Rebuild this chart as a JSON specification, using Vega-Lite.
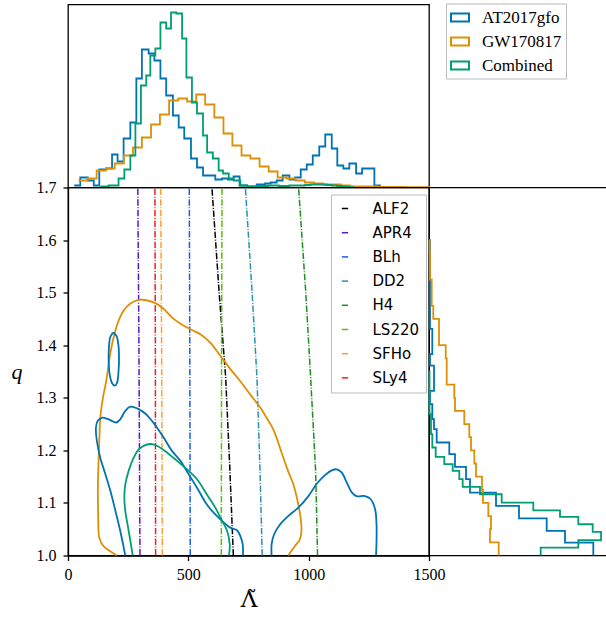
{
  "$schema": "https://vega.github.io/schema/vega-lite/v6.json",
  "padding": {"left": 10, "top": 1.5, "right": 0, "bottom": 0},
  "bounds": "flush",
  "spacing": 0,
  "resolve": {"scale": {"color": "independent"}},
  "config": {
    "view": {"stroke": "black", "strokeWidth": 1.3},
    "axis": {"domainColor": "black", "domainWidth": 1.3, "tickColor": "black", "tickWidth": 1.3, "tickSize": 5, "labelFont": "Liberation Serif", "labelFontSize": 16, "labelColor": "black", "titleColor": "black", "titleFont": "Liberation Serif", "titleFontWeight": "normal", "grid": false, "labelPadding": 6, "labelFlush": false}
  },
  "datasets": {
    "tophist": [
      {"dataset": "AT2017gfo", "lam": 26, "h": 2}, {"dataset": "AT2017gfo", "lam": 51, "h": 10}, {"dataset": "AT2017gfo", "lam": 82, "h": 7}, {"dataset": "AT2017gfo", "lam": 107, "h": 2}, {"dataset": "AT2017gfo", "lam": 130, "h": 18}, {"dataset": "AT2017gfo", "lam": 159, "h": 19}, {"dataset": "AT2017gfo", "lam": 183, "h": 33}, {"dataset": "AT2017gfo", "lam": 206, "h": 26}, {"dataset": "AT2017gfo", "lam": 231, "h": 49}, {"dataset": "AT2017gfo", "lam": 259, "h": 65}, {"dataset": "AT2017gfo", "lam": 284, "h": 109}, {"dataset": "AT2017gfo", "lam": 307, "h": 138}, {"dataset": "AT2017gfo", "lam": 335, "h": 134}, {"dataset": "AT2017gfo", "lam": 359, "h": 127}, {"dataset": "AT2017gfo", "lam": 384, "h": 109}, {"dataset": "AT2017gfo", "lam": 408, "h": 92}, {"dataset": "AT2017gfo", "lam": 436, "h": 72}, {"dataset": "AT2017gfo", "lam": 460, "h": 60}, {"dataset": "AT2017gfo", "lam": 483, "h": 49}, {"dataset": "AT2017gfo", "lam": 511, "h": 29}, {"dataset": "AT2017gfo", "lam": 536, "h": 20}, {"dataset": "AT2017gfo", "lam": 561, "h": 12}, {"dataset": "AT2017gfo", "lam": 589, "h": 12}, {"dataset": "AT2017gfo", "lam": 612, "h": 8}, {"dataset": "AT2017gfo", "lam": 640, "h": 9}, {"dataset": "AT2017gfo", "lam": 665, "h": 8}, {"dataset": "AT2017gfo", "lam": 688, "h": 11}, {"dataset": "AT2017gfo", "lam": 713, "h": 2}, {"dataset": "AT2017gfo", "lam": 744, "h": 1}, {"dataset": "AT2017gfo", "lam": 784, "h": 3}, {"dataset": "AT2017gfo", "lam": 819, "h": 4}, {"dataset": "AT2017gfo", "lam": 842, "h": 5}, {"dataset": "AT2017gfo", "lam": 867, "h": 7}, {"dataset": "AT2017gfo", "lam": 892, "h": 12}, {"dataset": "AT2017gfo", "lam": 920, "h": 8}, {"dataset": "AT2017gfo", "lam": 943, "h": 10}, {"dataset": "AT2017gfo", "lam": 967, "h": 18}, {"dataset": "AT2017gfo", "lam": 992, "h": 23}, {"dataset": "AT2017gfo", "lam": 1017, "h": 32}, {"dataset": "AT2017gfo", "lam": 1044, "h": 41}, {"dataset": "AT2017gfo", "lam": 1069, "h": 53}, {"dataset": "AT2017gfo", "lam": 1096, "h": 39}, {"dataset": "AT2017gfo", "lam": 1119, "h": 22}, {"dataset": "AT2017gfo", "lam": 1144, "h": 19}, {"dataset": "AT2017gfo", "lam": 1169, "h": 24}, {"dataset": "AT2017gfo", "lam": 1197, "h": 14}, {"dataset": "AT2017gfo", "lam": 1222, "h": 19}, {"dataset": "AT2017gfo", "lam": 1248, "h": 19}, {"dataset": "AT2017gfo", "lam": 1273, "h": 2}, {"dataset": "AT2017gfo", "lam": 1296, "h": 0},
      {"dataset": "GW170817", "lam": 44, "h": 7}, {"dataset": "GW170817", "lam": 82, "h": 9}, {"dataset": "GW170817", "lam": 119, "h": 17}, {"dataset": "GW170817", "lam": 157, "h": 19}, {"dataset": "GW170817", "lam": 194, "h": 24}, {"dataset": "GW170817", "lam": 232, "h": 32}, {"dataset": "GW170817", "lam": 270, "h": 40}, {"dataset": "GW170817", "lam": 307, "h": 50}, {"dataset": "GW170817", "lam": 345, "h": 63}, {"dataset": "GW170817", "lam": 382, "h": 73}, {"dataset": "GW170817", "lam": 420, "h": 87}, {"dataset": "GW170817", "lam": 458, "h": 89}, {"dataset": "GW170817", "lam": 495, "h": 86}, {"dataset": "GW170817", "lam": 533, "h": 93}, {"dataset": "GW170817", "lam": 570, "h": 83}, {"dataset": "GW170817", "lam": 608, "h": 70}, {"dataset": "GW170817", "lam": 646, "h": 54}, {"dataset": "GW170817", "lam": 683, "h": 42}, {"dataset": "GW170817", "lam": 721, "h": 32}, {"dataset": "GW170817", "lam": 758, "h": 29}, {"dataset": "GW170817", "lam": 796, "h": 21}, {"dataset": "GW170817", "lam": 834, "h": 16}, {"dataset": "GW170817", "lam": 871, "h": 10}, {"dataset": "GW170817", "lam": 909, "h": 9}, {"dataset": "GW170817", "lam": 946, "h": 7}, {"dataset": "GW170817", "lam": 984, "h": 5}, {"dataset": "GW170817", "lam": 1022, "h": 4}, {"dataset": "GW170817", "lam": 1059, "h": 3}, {"dataset": "GW170817", "lam": 1097, "h": 3}, {"dataset": "GW170817", "lam": 1134, "h": 2}, {"dataset": "GW170817", "lam": 1172, "h": 1}, {"dataset": "GW170817", "lam": 1210, "h": 1}, {"dataset": "GW170817", "lam": 1247, "h": 1}, {"dataset": "GW170817", "lam": 1285, "h": 0.5}, {"dataset": "GW170817", "lam": 1400, "h": 0.3}, {"dataset": "GW170817", "lam": 1500, "h": 0},
      {"dataset": "Combined", "lam": 134, "h": 1}, {"dataset": "Combined", "lam": 169, "h": 2}, {"dataset": "Combined", "lam": 210, "h": 9}, {"dataset": "Combined", "lam": 234, "h": 18}, {"dataset": "Combined", "lam": 259, "h": 32}, {"dataset": "Combined", "lam": 280, "h": 64}, {"dataset": "Combined", "lam": 303, "h": 102}, {"dataset": "Combined", "lam": 325, "h": 112}, {"dataset": "Combined", "lam": 342, "h": 132}, {"dataset": "Combined", "lam": 363, "h": 139}, {"dataset": "Combined", "lam": 384, "h": 165}, {"dataset": "Combined", "lam": 408, "h": 159}, {"dataset": "Combined", "lam": 428, "h": 175}, {"dataset": "Combined", "lam": 450, "h": 174}, {"dataset": "Combined", "lam": 474, "h": 149}, {"dataset": "Combined", "lam": 492, "h": 110}, {"dataset": "Combined", "lam": 515, "h": 85}, {"dataset": "Combined", "lam": 536, "h": 74}, {"dataset": "Combined", "lam": 561, "h": 52}, {"dataset": "Combined", "lam": 578, "h": 35}, {"dataset": "Combined", "lam": 602, "h": 29}, {"dataset": "Combined", "lam": 626, "h": 17}, {"dataset": "Combined", "lam": 644, "h": 14}, {"dataset": "Combined", "lam": 668, "h": 9}, {"dataset": "Combined", "lam": 688, "h": 7}, {"dataset": "Combined", "lam": 716, "h": 2}, {"dataset": "Combined", "lam": 744, "h": 1}, {"dataset": "Combined", "lam": 766, "h": 1}, {"dataset": "Combined", "lam": 788, "h": 1.5}, {"dataset": "Combined", "lam": 810, "h": 1.5}, {"dataset": "Combined", "lam": 832, "h": 2}, {"dataset": "Combined", "lam": 854, "h": 2}, {"dataset": "Combined", "lam": 876, "h": 1.5}, {"dataset": "Combined", "lam": 898, "h": 1.5}, {"dataset": "Combined", "lam": 920, "h": 2}, {"dataset": "Combined", "lam": 942, "h": 2}, {"dataset": "Combined", "lam": 964, "h": 2}, {"dataset": "Combined", "lam": 986, "h": 2.5}, {"dataset": "Combined", "lam": 1008, "h": 3}, {"dataset": "Combined", "lam": 1030, "h": 3}, {"dataset": "Combined", "lam": 1052, "h": 3}, {"dataset": "Combined", "lam": 1074, "h": 2.5}, {"dataset": "Combined", "lam": 1096, "h": 2}, {"dataset": "Combined", "lam": 1118, "h": 1.5}, {"dataset": "Combined", "lam": 1140, "h": 1}, {"dataset": "Combined", "lam": 1162, "h": 0.5}, {"dataset": "Combined", "lam": 1184, "h": 0}
    ],
    "righthist": [
      {"dataset": "AT2017gfo", "q": 1.0, "w": 164.3}, {"dataset": "AT2017gfo", "q": 1.0245, "w": 136}, {"dataset": "AT2017gfo", "q": 1.0467, "w": 117.7}, {"dataset": "AT2017gfo", "q": 1.0708, "w": 90}, {"dataset": "AT2017gfo", "q": 1.0943, "w": 67}, {"dataset": "AT2017gfo", "q": 1.1197, "w": 41}, {"dataset": "AT2017gfo", "q": 1.1451, "w": 37}, {"dataset": "AT2017gfo", "q": 1.1686, "w": 26}, {"dataset": "AT2017gfo", "q": 1.1927, "w": 20.3}, {"dataset": "AT2017gfo", "q": 1.2149, "w": 7.7}, {"dataset": "AT2017gfo", "q": 1.2403, "w": 5}, {"dataset": "AT2017gfo", "q": 1.2594, "w": 3.3}, {"dataset": "AT2017gfo", "q": 1.288, "w": 1}, {"dataset": "AT2017gfo", "q": 1.3133, "w": 5}, {"dataset": "AT2017gfo", "q": 1.361, "w": 1}, {"dataset": "AT2017gfo", "q": 1.383, "w": 3.3}, {"dataset": "AT2017gfo", "q": 1.431, "w": 1}, {"dataset": "AT2017gfo", "q": 1.456, "w": 1}, {"dataset": "AT2017gfo", "q": 1.6, "w": 0},
      {"dataset": "GW170817", "q": 1.0, "w": 69.7}, {"dataset": "GW170817", "q": 1.025, "w": 61}, {"dataset": "GW170817", "q": 1.05, "w": 62}, {"dataset": "GW170817", "q": 1.075, "w": 59.3}, {"dataset": "GW170817", "q": 1.1, "w": 54}, {"dataset": "GW170817", "q": 1.125, "w": 53}, {"dataset": "GW170817", "q": 1.15, "w": 47}, {"dataset": "GW170817", "q": 1.175, "w": 45.3}, {"dataset": "GW170817", "q": 1.2, "w": 42}, {"dataset": "GW170817", "q": 1.225, "w": 40.3}, {"dataset": "GW170817", "q": 1.25, "w": 35.3}, {"dataset": "GW170817", "q": 1.275, "w": 26}, {"dataset": "GW170817", "q": 1.3, "w": 25.3}, {"dataset": "GW170817", "q": 1.325, "w": 17.7}, {"dataset": "GW170817", "q": 1.35, "w": 17.7}, {"dataset": "GW170817", "q": 1.375, "w": 16.7}, {"dataset": "GW170817", "q": 1.4, "w": 10}, {"dataset": "GW170817", "q": 1.425, "w": 10}, {"dataset": "GW170817", "q": 1.45, "w": 4.3}, {"dataset": "GW170817", "q": 1.475, "w": 2.7}, {"dataset": "GW170817", "q": 1.5, "w": 2.7}, {"dataset": "GW170817", "q": 1.525, "w": 1}, {"dataset": "GW170817", "q": 1.55, "w": 1}, {"dataset": "GW170817", "q": 1.575, "w": 0.7}, {"dataset": "GW170817", "q": 1.6, "w": 0},
      {"dataset": "Combined", "q": 1.0, "w": 111.7}, {"dataset": "Combined", "q": 1.015, "w": 149.3}, {"dataset": "Combined", "q": 1.029, "w": 172}, {"dataset": "Combined", "q": 1.0448, "w": 163.7}, {"dataset": "Combined", "q": 1.0594, "w": 149.3}, {"dataset": "Combined", "q": 1.0733, "w": 131}, {"dataset": "Combined", "q": 1.086, "w": 104.3}, {"dataset": "Combined", "q": 1.1006, "w": 72.7}, {"dataset": "Combined", "q": 1.1165, "w": 51}, {"dataset": "Combined", "q": 1.1305, "w": 33.7}, {"dataset": "Combined", "q": 1.1451, "w": 30.3}, {"dataset": "Combined", "q": 1.161, "w": 23.7}, {"dataset": "Combined", "q": 1.1737, "w": 15.3}, {"dataset": "Combined", "q": 1.1876, "w": 6.7}, {"dataset": "Combined", "q": 1.2054, "w": 3.3}, {"dataset": "Combined", "q": 1.2308, "w": 2}, {"dataset": "Combined", "q": 1.269, "w": 0.5}, {"dataset": "Combined", "q": 1.35, "w": 0}
    ],
    "contours": [
      {"dataset": "GW170817", "part": "gw", "i": 0, "lam": 202, "q": 1.0}, {"dataset": "GW170817", "part": "gw", "i": 1, "lam": 175, "q": 1.008}, {"dataset": "GW170817", "part": "gw", "i": 2, "lam": 147, "q": 1.018}, {"dataset": "GW170817", "part": "gw", "i": 3, "lam": 130, "q": 1.034}, {"dataset": "GW170817", "part": "gw", "i": 4, "lam": 126, "q": 1.06}, {"dataset": "GW170817", "part": "gw", "i": 5, "lam": 125, "q": 1.085}, {"dataset": "GW170817", "part": "gw", "i": 6, "lam": 124, "q": 1.123}, {"dataset": "GW170817", "part": "gw", "i": 7, "lam": 127, "q": 1.18}, {"dataset": "GW170817", "part": "gw", "i": 8, "lam": 131, "q": 1.23}, {"dataset": "GW170817", "part": "gw", "i": 9, "lam": 134, "q": 1.262}, {"dataset": "GW170817", "part": "gw", "i": 10, "lam": 145, "q": 1.3}, {"dataset": "GW170817", "part": "gw", "i": 11, "lam": 159, "q": 1.332}, {"dataset": "GW170817", "part": "gw", "i": 12, "lam": 173, "q": 1.377}, {"dataset": "GW170817", "part": "gw", "i": 13, "lam": 186, "q": 1.408}, {"dataset": "GW170817", "part": "gw", "i": 14, "lam": 205, "q": 1.44}, {"dataset": "GW170817", "part": "gw", "i": 15, "lam": 230, "q": 1.465}, {"dataset": "GW170817", "part": "gw", "i": 16, "lam": 258, "q": 1.479}, {"dataset": "GW170817", "part": "gw", "i": 17, "lam": 290, "q": 1.486}, {"dataset": "GW170817", "part": "gw", "i": 18, "lam": 320, "q": 1.486}, {"dataset": "GW170817", "part": "gw", "i": 19, "lam": 363, "q": 1.48}, {"dataset": "GW170817", "part": "gw", "i": 20, "lam": 398, "q": 1.469}, {"dataset": "GW170817", "part": "gw", "i": 21, "lam": 439, "q": 1.45}, {"dataset": "GW170817", "part": "gw", "i": 22, "lam": 481, "q": 1.437}, {"dataset": "GW170817", "part": "gw", "i": 23, "lam": 515, "q": 1.429}, {"dataset": "GW170817", "part": "gw", "i": 24, "lam": 550, "q": 1.421}, {"dataset": "GW170817", "part": "gw", "i": 25, "lam": 591, "q": 1.405}, {"dataset": "GW170817", "part": "gw", "i": 26, "lam": 633, "q": 1.38}, {"dataset": "GW170817", "part": "gw", "i": 27, "lam": 674, "q": 1.355}, {"dataset": "GW170817", "part": "gw", "i": 28, "lam": 715, "q": 1.332}, {"dataset": "GW170817", "part": "gw", "i": 29, "lam": 756, "q": 1.307}, {"dataset": "GW170817", "part": "gw", "i": 30, "lam": 798, "q": 1.282}, {"dataset": "GW170817", "part": "gw", "i": 31, "lam": 825, "q": 1.262}, {"dataset": "GW170817", "part": "gw", "i": 32, "lam": 853, "q": 1.24}, {"dataset": "GW170817", "part": "gw", "i": 33, "lam": 888, "q": 1.195}, {"dataset": "GW170817", "part": "gw", "i": 34, "lam": 915, "q": 1.16}, {"dataset": "GW170817", "part": "gw", "i": 35, "lam": 936, "q": 1.136}, {"dataset": "GW170817", "part": "gw", "i": 36, "lam": 957, "q": 1.097}, {"dataset": "GW170817", "part": "gw", "i": 37, "lam": 968, "q": 1.066}, {"dataset": "GW170817", "part": "gw", "i": 38, "lam": 970, "q": 1.047}, {"dataset": "GW170817", "part": "gw", "i": 39, "lam": 963, "q": 1.03}, {"dataset": "GW170817", "part": "gw", "i": 40, "lam": 943, "q": 1.018}, {"dataset": "GW170817", "part": "gw", "i": 41, "lam": 915, "q": 1.0},
      {"dataset": "AT2017gfo", "part": "ell", "i": 0, "lam": 187, "q": 1.424}, {"dataset": "AT2017gfo", "part": "ell", "i": 1, "lam": 201, "q": 1.418}, {"dataset": "AT2017gfo", "part": "ell", "i": 2, "lam": 209, "q": 1.402}, {"dataset": "AT2017gfo", "part": "ell", "i": 3, "lam": 212, "q": 1.377}, {"dataset": "AT2017gfo", "part": "ell", "i": 4, "lam": 210, "q": 1.351}, {"dataset": "AT2017gfo", "part": "ell", "i": 5, "lam": 204, "q": 1.329}, {"dataset": "AT2017gfo", "part": "ell", "i": 6, "lam": 194, "q": 1.323}, {"dataset": "AT2017gfo", "part": "ell", "i": 7, "lam": 184, "q": 1.327}, {"dataset": "AT2017gfo", "part": "ell", "i": 8, "lam": 173, "q": 1.345}, {"dataset": "AT2017gfo", "part": "ell", "i": 9, "lam": 169, "q": 1.37}, {"dataset": "AT2017gfo", "part": "ell", "i": 10, "lam": 170, "q": 1.396}, {"dataset": "AT2017gfo", "part": "ell", "i": 11, "lam": 176, "q": 1.416}, {"dataset": "AT2017gfo", "part": "ell", "i": 12, "lam": 187, "q": 1.424},
      {"dataset": "AT2017gfo", "part": "left", "i": 0, "lam": 238, "q": 1.0}, {"dataset": "AT2017gfo", "part": "left", "i": 1, "lam": 217, "q": 1.047}, {"dataset": "AT2017gfo", "part": "left", "i": 2, "lam": 197, "q": 1.085}, {"dataset": "AT2017gfo", "part": "left", "i": 3, "lam": 176, "q": 1.123}, {"dataset": "AT2017gfo", "part": "left", "i": 4, "lam": 155, "q": 1.155}, {"dataset": "AT2017gfo", "part": "left", "i": 5, "lam": 134, "q": 1.186}, {"dataset": "AT2017gfo", "part": "left", "i": 6, "lam": 120, "q": 1.218}, {"dataset": "AT2017gfo", "part": "left", "i": 7, "lam": 116, "q": 1.243}, {"dataset": "AT2017gfo", "part": "left", "i": 8, "lam": 123, "q": 1.256}, {"dataset": "AT2017gfo", "part": "left", "i": 9, "lam": 141, "q": 1.262}, {"dataset": "AT2017gfo", "part": "left", "i": 10, "lam": 169, "q": 1.259}, {"dataset": "AT2017gfo", "part": "left", "i": 11, "lam": 201, "q": 1.253}, {"dataset": "AT2017gfo", "part": "left", "i": 12, "lam": 217, "q": 1.259}, {"dataset": "AT2017gfo", "part": "left", "i": 13, "lam": 238, "q": 1.275}, {"dataset": "AT2017gfo", "part": "left", "i": 14, "lam": 259, "q": 1.283}, {"dataset": "AT2017gfo", "part": "left", "i": 15, "lam": 287, "q": 1.28}, {"dataset": "AT2017gfo", "part": "left", "i": 16, "lam": 321, "q": 1.27}, {"dataset": "AT2017gfo", "part": "left", "i": 17, "lam": 349, "q": 1.256}, {"dataset": "AT2017gfo", "part": "left", "i": 18, "lam": 370, "q": 1.243}, {"dataset": "AT2017gfo", "part": "left", "i": 19, "lam": 398, "q": 1.224}, {"dataset": "AT2017gfo", "part": "left", "i": 20, "lam": 432, "q": 1.199}, {"dataset": "AT2017gfo", "part": "left", "i": 21, "lam": 467, "q": 1.18}, {"dataset": "AT2017gfo", "part": "left", "i": 22, "lam": 501, "q": 1.155}, {"dataset": "AT2017gfo", "part": "left", "i": 23, "lam": 536, "q": 1.129}, {"dataset": "AT2017gfo", "part": "left", "i": 24, "lam": 577, "q": 1.097}, {"dataset": "AT2017gfo", "part": "left", "i": 25, "lam": 612, "q": 1.078}, {"dataset": "AT2017gfo", "part": "left", "i": 26, "lam": 640, "q": 1.066}, {"dataset": "AT2017gfo", "part": "left", "i": 27, "lam": 674, "q": 1.053}, {"dataset": "AT2017gfo", "part": "left", "i": 28, "lam": 702, "q": 1.048}, {"dataset": "AT2017gfo", "part": "left", "i": 29, "lam": 716, "q": 1.037}, {"dataset": "AT2017gfo", "part": "left", "i": 30, "lam": 726, "q": 1.021}, {"dataset": "AT2017gfo", "part": "left", "i": 31, "lam": 727, "q": 1.0},
      {"dataset": "AT2017gfo", "part": "right", "i": 0, "lam": 846, "q": 1.0}, {"dataset": "AT2017gfo", "part": "right", "i": 1, "lam": 846, "q": 1.021}, {"dataset": "AT2017gfo", "part": "right", "i": 2, "lam": 856, "q": 1.04}, {"dataset": "AT2017gfo", "part": "right", "i": 3, "lam": 881, "q": 1.059}, {"dataset": "AT2017gfo", "part": "right", "i": 4, "lam": 915, "q": 1.075}, {"dataset": "AT2017gfo", "part": "right", "i": 5, "lam": 957, "q": 1.091}, {"dataset": "AT2017gfo", "part": "right", "i": 6, "lam": 999, "q": 1.113}, {"dataset": "AT2017gfo", "part": "right", "i": 7, "lam": 1033, "q": 1.136}, {"dataset": "AT2017gfo", "part": "right", "i": 8, "lam": 1068, "q": 1.153}, {"dataset": "AT2017gfo", "part": "right", "i": 9, "lam": 1096, "q": 1.162}, {"dataset": "AT2017gfo", "part": "right", "i": 10, "lam": 1116, "q": 1.164}, {"dataset": "AT2017gfo", "part": "right", "i": 11, "lam": 1137, "q": 1.158}, {"dataset": "AT2017gfo", "part": "right", "i": 12, "lam": 1158, "q": 1.139}, {"dataset": "AT2017gfo", "part": "right", "i": 13, "lam": 1179, "q": 1.12}, {"dataset": "AT2017gfo", "part": "right", "i": 14, "lam": 1199, "q": 1.113}, {"dataset": "AT2017gfo", "part": "right", "i": 15, "lam": 1234, "q": 1.113}, {"dataset": "AT2017gfo", "part": "right", "i": 16, "lam": 1258, "q": 1.107}, {"dataset": "AT2017gfo", "part": "right", "i": 17, "lam": 1276, "q": 1.088}, {"dataset": "AT2017gfo", "part": "right", "i": 18, "lam": 1282, "q": 1.059}, {"dataset": "AT2017gfo", "part": "right", "i": 19, "lam": 1282, "q": 1.028}, {"dataset": "AT2017gfo", "part": "right", "i": 20, "lam": 1280, "q": 1.0},
      {"dataset": "Combined", "part": "comb", "i": 0, "lam": 269, "q": 1.0}, {"dataset": "Combined", "part": "comb", "i": 1, "lam": 252, "q": 1.047}, {"dataset": "Combined", "part": "comb", "i": 2, "lam": 238, "q": 1.085}, {"dataset": "Combined", "part": "comb", "i": 3, "lam": 234, "q": 1.11}, {"dataset": "Combined", "part": "comb", "i": 4, "lam": 238, "q": 1.135}, {"dataset": "Combined", "part": "comb", "i": 5, "lam": 252, "q": 1.161}, {"dataset": "Combined", "part": "comb", "i": 6, "lam": 273, "q": 1.186}, {"dataset": "Combined", "part": "comb", "i": 7, "lam": 294, "q": 1.202}, {"dataset": "Combined", "part": "comb", "i": 8, "lam": 321, "q": 1.21}, {"dataset": "Combined", "part": "comb", "i": 9, "lam": 349, "q": 1.212}, {"dataset": "Combined", "part": "comb", "i": 10, "lam": 377, "q": 1.207}, {"dataset": "Combined", "part": "comb", "i": 11, "lam": 411, "q": 1.196}, {"dataset": "Combined", "part": "comb", "i": 12, "lam": 453, "q": 1.18}, {"dataset": "Combined", "part": "comb", "i": 13, "lam": 494, "q": 1.164}, {"dataset": "Combined", "part": "comb", "i": 14, "lam": 536, "q": 1.145}, {"dataset": "Combined", "part": "comb", "i": 15, "lam": 577, "q": 1.116}, {"dataset": "Combined", "part": "comb", "i": 16, "lam": 612, "q": 1.091}, {"dataset": "Combined", "part": "comb", "i": 17, "lam": 640, "q": 1.066}, {"dataset": "Combined", "part": "comb", "i": 18, "lam": 661, "q": 1.047}, {"dataset": "Combined", "part": "comb", "i": 19, "lam": 672, "q": 1.021}, {"dataset": "Combined", "part": "comb", "i": 20, "lam": 669, "q": 1.0}
    ],
    "eos": [
      {"eos": "ALF2", "lam": 598, "q": 1.7}, {"eos": "ALF2", "lam": 628, "q": 1.5}, {"eos": "ALF2", "lam": 655, "q": 1.34}, {"eos": "ALF2", "lam": 672, "q": 1.17}, {"eos": "ALF2", "lam": 687, "q": 1.0},
      {"eos": "APR4", "lam": 290, "q": 1.7}, {"eos": "APR4", "lam": 294, "q": 1.45}, {"eos": "APR4", "lam": 297, "q": 1.2}, {"eos": "APR4", "lam": 299, "q": 1.0},
      {"eos": "BLh", "lam": 504, "q": 1.7}, {"eos": "BLh", "lam": 506, "q": 1.4}, {"eos": "BLh", "lam": 508, "q": 1.0},
      {"eos": "DD2", "lam": 737, "q": 1.7}, {"eos": "DD2", "lam": 765, "q": 1.5}, {"eos": "DD2", "lam": 785, "q": 1.34}, {"eos": "DD2", "lam": 798, "q": 1.16}, {"eos": "DD2", "lam": 807, "q": 1.0},
      {"eos": "H4", "lam": 958, "q": 1.7}, {"eos": "H4", "lam": 988, "q": 1.5}, {"eos": "H4", "lam": 1008, "q": 1.34}, {"eos": "H4", "lam": 1029, "q": 1.16}, {"eos": "H4", "lam": 1037, "q": 1.0},
      {"eos": "LS220", "lam": 640, "q": 1.7}, {"eos": "LS220", "lam": 638, "q": 1.35}, {"eos": "LS220", "lam": 637, "q": 1.0},
      {"eos": "SFHo", "lam": 385, "q": 1.7}, {"eos": "SFHo", "lam": 389, "q": 1.4}, {"eos": "SFHo", "lam": 392, "q": 1.0},
      {"eos": "SLy4", "lam": 361, "q": 1.7}, {"eos": "SLy4", "lam": 363, "q": 1.4}, {"eos": "SLy4", "lam": 364, "q": 1.0}
    ]
  },
  "vconcat": [
    {
      "width": 361,
      "height": 183,
      "data": {"name": "tophist"},
      "mark": {"type": "line", "interpolate": "step-after", "strokeWidth": 1.8},
      "encoding": {
        "x": {"field": "lam", "type": "quantitative", "scale": {"domain": [0, 1500], "nice": false, "zero": false}, "axis": null},
        "y": {"field": "h", "type": "quantitative", "scale": {"domain": [0, 183], "nice": false}, "axis": null},
        "color": {"field": "dataset", "type": "nominal",
          "scale": {"domain": ["AT2017gfo", "GW170817", "Combined"], "range": ["#0173B2", "#DE8F05", "#029E73"]},
          "legend": {"orient": "none", "legendX": 378, "legendY": -1, "title": null, "symbolType": "M-1,-0.45L1,-0.45L1,0.45L-1,0.45Z", "symbolSize": 324, "symbolStrokeWidth": 2, "symbolFillColor": "white", "labelFont": "Liberation Serif", "labelFontSize": 17, "labelColor": "black", "labelOffset": 12, "rowPadding": 5, "padding": 4, "strokeColor": "#bbbbbb", "fillColor": "white"}
        }
      }
    },
    {
      "spacing": 0,
      "bounds": "flush",
      "resolve": {"scale": {"color": "independent"}},
      "hconcat": [
        {
          "width": 361,
          "height": 368,
          "resolve": {"scale": {"color": "independent"}},
          "layer": [
            {
              "data": {"name": "eos"},
              "mark": {"type": "line", "strokeWidth": 1.5, "strokeDash": [6.4, 1.6, 1, 1.6]},
              "encoding": {
                "x": {"field": "lam", "type": "quantitative", "scale": {"domain": [0, 1500], "nice": false, "zero": false},
                  "axis": {"values": [0, 500, 1000, 1500], "format": "d", "title": "Λ̃", "titleFont": "DejaVu Serif", "titleFontSize": 23, "titlePadding": 6}},
                "y": {"field": "q", "type": "quantitative", "scale": {"domain": [1.0, 1.7], "nice": false, "zero": false},
                  "axis": {"values": [1.0, 1.1, 1.2, 1.3, 1.4, 1.5, 1.6, 1.7], "format": ".1f", "title": "q", "titleAngle": 0, "titleFontStyle": "italic", "titleFontSize": 22, "titleAlign": "right", "titleBaseline": "middle", "titlePadding": 14, "labelPadding": 7}},
                "order": {"field": "q", "type": "quantitative"},
                "detail": {"field": "eos"},
                "color": {"field": "eos", "type": "nominal",
                  "scale": {"domain": ["ALF2", "APR4", "BLh", "DD2", "H4", "LS220", "SFHo", "SLy4"], "range": ["#000000", "#5b19c4", "#1a5fe6", "#2a93b3", "#1f8f1f", "#5cbd0a", "#ffa033", "#ee2020"]},
                  "legend": {"orient": "none", "legendX": 263, "legendY": 7, "title": null, "symbolType": "stroke", "symbolSize": 40, "symbolStrokeWidth": 1.5, "labelFont": "DejaVu Sans", "labelFontSize": 15, "labelColor": "black", "labelOffset": 20, "rowPadding": 8.2, "padding": 6.5, "strokeColor": "#bbbbbb", "fillColor": "white"}
                }
              }
            },
            {
              "data": {"name": "contours"},
              "mark": {"type": "line", "interpolate": "catmull-rom", "strokeWidth": 1.8},
              "encoding": {
                "x": {"field": "lam", "type": "quantitative"},
                "y": {"field": "q", "type": "quantitative"},
                "order": {"field": "i", "type": "quantitative"},
                "detail": {"field": "part"},
                "color": {"field": "dataset", "type": "nominal",
                  "scale": {"domain": ["AT2017gfo", "GW170817", "Combined"], "range": ["#0173B2", "#DE8F05", "#029E73"]},
                  "legend": null}
              }
            }
          ]
        },
        {
          "width": 180,
          "height": 368,
          "data": {"name": "righthist"},
          "mark": {"type": "line", "interpolate": "step-before", "strokeWidth": 1.8},
          "encoding": {
            "x": {"field": "w", "type": "quantitative", "scale": {"domain": [0, 180], "nice": false}, "axis": null},
            "y": {"field": "q", "type": "quantitative", "scale": {"domain": [1.0, 1.7], "nice": false, "zero": false}, "axis": null},
            "order": {"field": "q", "type": "quantitative"},
            "color": {"field": "dataset", "type": "nominal",
              "scale": {"domain": ["AT2017gfo", "GW170817", "Combined"], "range": ["#0173B2", "#DE8F05", "#029E73"]},
              "legend": null}
          }
        }
      ]
    }
  ]
}
